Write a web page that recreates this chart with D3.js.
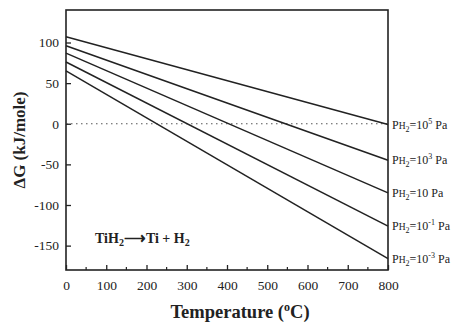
<!DOCTYPE html>
<html>
<head>
<meta charset="utf-8">
<script src="https://cdn.jsdelivr.net/npm/d3@7"></script>
<style>
  html, body { margin: 0; padding: 0; background: #fff; }
  svg { display: block; font-family: "Liberation Serif", "Times New Roman", serif; }
</style>
</head>
<body>
<svg id="chart" width="467" height="327"></svg>
<script>
// Temperature range (°C) and ΔG of TiH2 -> Ti + H2 at each hydrogen pressure
const temps = [0, 800];
const pressureExponents = ["5", "3", "", "-1", "-3"];
const dG_at0 = [107, 96, 87, 76, 65];
const dG_at800 = [-1, -45, -85, -126, -166];
const xTicks = [0, 100, 200, 300, 400, 500, 600, 700, 800];
const yTicks = [-150, -100, -50, 0, 50, 100];

const svg = d3.select("#chart");
const m = { left: 66, right: 388, top: 10, bottom: 270 };
const ink = "#222";

const x = d3.scaleLinear().domain([0, 800]).range([m.left, m.right]);
const y = d3.scaleLinear().domain([-180, 140]).range([m.bottom, m.top]);

// frame
svg.append("rect")
  .attr("x", m.left).attr("y", m.top)
  .attr("width", m.right - m.left).attr("height", m.bottom - m.top)
  .attr("fill", "none").attr("stroke", ink).attr("stroke-width", 1.6);

// zero reference line
svg.append("line")
  .attr("x1", x(0)).attr("x2", x(800)).attr("y1", y(0)).attr("y2", y(0))
  .attr("stroke", "#555").attr("stroke-width", 1.2).attr("stroke-dasharray", "1.5,3.5");

// bottom axis: inward major + minor ticks
const plain = d => String(d);
const xAxis = d3.axisBottom(x).tickValues(xTicks).tickFormat(plain)
  .tickSizeInner(-5).tickSizeOuter(0).tickPadding(10);
const gx = svg.append("g").attr("transform", `translate(0,${m.bottom})`).call(xAxis);
gx.select(".domain").remove();
gx.selectAll(".tick line").attr("stroke", ink).attr("stroke-width", 1.3);
gx.selectAll(".tick text").attr("font-size", 13.5).attr("fill", ink)
  .attr("font-family", "Liberation Serif, serif");
const xMinor = d3.range(50, 800, 100);
svg.append("g").selectAll("line").data(xMinor).join("line")
  .attr("x1", d => x(d)).attr("x2", d => x(d))
  .attr("y1", m.bottom).attr("y2", m.bottom - 3)
  .attr("stroke", ink).attr("stroke-width", 1.2);

// left axis: inward ticks
const yAxis = d3.axisLeft(y).tickValues(yTicks).tickFormat(plain)
  .tickSizeInner(-5).tickSizeOuter(0).tickPadding(7);
const gy = svg.append("g").attr("transform", `translate(${m.left},0)`).call(yAxis);
gy.select(".domain").remove();
gy.selectAll(".tick line").attr("stroke", ink).attr("stroke-width", 1.3);
gy.selectAll(".tick text").attr("font-size", 13.5).attr("fill", ink)
  .attr("font-family", "Liberation Serif, serif");

// ΔG lines
const series = pressureExponents.map((e, i) => ({
  exp: e,
  pts: [[temps[0], dG_at0[i]], [temps[1], dG_at800[i]]]
}));
const line = d3.line().x(d => x(d[0])).y(d => y(d[1]));
svg.append("g").selectAll("path").data(series).join("path")
  .attr("d", d => line(d.pts))
  .attr("fill", "none").attr("stroke", ink).attr("stroke-width", 1.5);

// pressure labels at line ends
const lab = svg.append("g").selectAll("text").data(series).join("text")
  .attr("x", m.right + 4)
  .attr("y", d => y(d.pts[1][1]) + 4)
  .attr("font-size", 12).attr("fill", ink);
lab.append("tspan").text("P");
lab.append("tspan").attr("font-size", 9.5).text("H");
lab.append("tspan").attr("font-size", 8).attr("dy", 3).text("2");
lab.append("tspan").attr("dy", -3).text("=10");
lab.filter(d => d.exp !== "").append("tspan")
  .attr("font-size", 8).attr("dy", -5).text(d => d.exp);
lab.append("tspan").attr("dy", d => d.exp !== "" ? 5 : 0).text(" Pa");

// reaction annotation
const rx = svg.append("text").attr("x", 95).attr("y", 243)
  .attr("font-size", 14).attr("font-weight", "bold").attr("fill", ink);
rx.append("tspan").text("TiH");
rx.append("tspan").attr("font-size", 10).attr("dy", 3).text("2");
rx.append("tspan").attr("dy", -3).attr("font-size", 15).text("\u27F6");
rx.append("tspan").text("Ti + H");
rx.append("tspan").attr("font-size", 10).attr("dy", 3).text("2");

// axis titles
svg.append("text")
  .attr("transform", `translate(25,${(m.top + m.bottom) / 2}) rotate(-90)`)
  .attr("text-anchor", "middle").attr("font-size", 17).attr("font-weight", "bold").attr("fill", ink)
  .text("\u0394G (kJ/mole)");

const xt = svg.append("text")
  .attr("x", 240).attr("y", 318)
  .attr("text-anchor", "middle").attr("font-size", 18.5).attr("font-weight", "bold").attr("fill", ink);
xt.append("tspan").text("Temperature (");
xt.append("tspan").attr("font-size", 12).attr("dy", -7).text("o");
xt.append("tspan").attr("dy", 7).text("C)");
</script>
</body>
</html>
